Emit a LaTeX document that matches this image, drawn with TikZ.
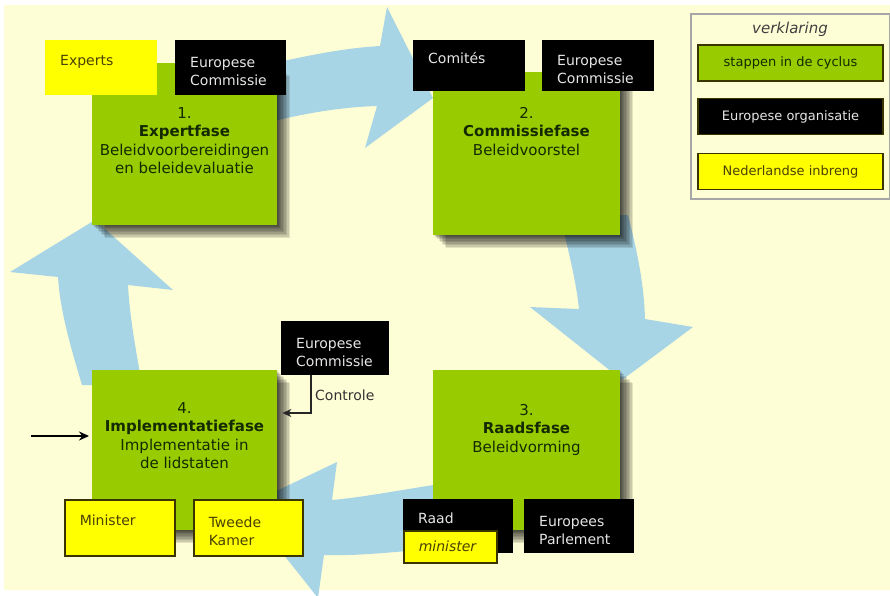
\documentclass[tikz,border=0pt]{standalone}
\usepackage{fontspec}
\setmainfont{DejaVu Sans}
\usetikzlibrary{arrows.meta,shadows}
\definecolor{cream}{HTML}{FEFED6}
\definecolor{lgreen}{HTML}{99CC00}
\definecolor{lblue}{HTML}{A8D5E5}
\definecolor{yel}{HTML}{FFFF00}
\definecolor{olive}{HTML}{3A3500}
\definecolor{gtxt}{HTML}{152A00}
\definecolor{ytxt}{HTML}{4A4200}
\definecolor{wtxt}{HTML}{E6E6E6}
\newcommand\tpx{\rule{0pt}{18pt}}
\begin{document}
\begin{tikzpicture}[x=1pt,y=-1pt,
  lbl/.style={font=\fontsize{14}{18}\selectfont},
  sh/.style={drop shadow={shadow xshift=#1,shadow yshift=-#1,opacity=.11,fill=black}},
  gbox/.style={fill=lgreen, anchor=north west, inner sep=0pt,
    sh=13pt, sh=11.5pt, sh=10pt, sh=8.5pt, sh=7pt, sh=5.5pt, sh=4pt, sh=3pt, sh=2pt, sh=1pt},
  gtext/.style={anchor=north, align=center, inner sep=0pt, text=gtxt, font=\fontsize{15}{18.5}\selectfont},
  smallbox/.style={lbl, anchor=north west, inner xsep=15pt, inner ysep=0pt, align=left},
  blackbox/.style={smallbox, fill=black, text=wtxt},
  yellowbox/.style={smallbox, fill=yel, draw=olive, line width=1.5pt, text=ytxt},
  legbox/.style={font=\fontsize{13}{16}\selectfont, minimum width=185pt, minimum height=36pt, draw=olive, line width=1.5pt, inner sep=0pt},
  arr/.style={fill=lblue, draw=none}
]
\useasboundingbox (0,0) rectangle (890,595);
\fill[white] (0,0) rectangle (890,595);
\fill[cream] (4,5) rectangle (890,590);

% blue cycle arrows
\path[arr] (270,64) .. controls (310,55) and (345,48) .. (380,46) -- (387,7) -- (433,98) -- (365,148) -- (377,106) .. controls (345,107) and (310,112) .. (270,122) -- cycle;
\path[arr] (560,215) .. controls (568,250) and (576,280) .. (579,309) -- (530,307) -- (622,380) -- (693,327) -- (645,319) .. controls (644,285) and (638,255) .. (628,215) -- cycle;
\path[arr] (440,484) .. controls (400,490) and (365,497) .. (332,500) -- (337,462) -- (245,506) -- (318,598) -- (324,555) .. controls (355,556) and (385,553) .. (440,548) -- cycle;
\path[arr] (82,385) .. controls (70,345) and (60,310) .. (58,277) -- (10,272) -- (95,220) -- (173,290) -- (128,285) .. controls (130,320) and (136,350) .. (142,385) -- cycle;

% phase boxes
\node[gbox, minimum width=185pt, minimum height=162pt] (g1) at (92,63) {};
\node[gbox, minimum width=187pt, minimum height=163pt] (g2) at (433,72) {};
\node[gbox, minimum width=187pt, minimum height=160pt] (g3) at (433,370) {};
\node[gbox, minimum width=185pt, minimum height=160pt] (g4) at (92,370) {};

\node[gtext] (t1) at (184.5,107) {1.\\\textbf{Expertfase}\\Beleidvoorbereidingen\\en beleidevaluatie};
\node[gtext] (t2) at (526.5,107) {2.\\\textbf{Commissiefase}\\Beleidvoorstel};
\node[gtext] (t3) at (526.5,404) {3.\\\textbf{Raadsfase}\\Beleidvorming};
\node[gtext] (t4) at (184.5,402) {4.\\\textbf{Implementatiefase}\\Implementatie in\\de lidstaten};

% actor boxes
\node[smallbox, fill=yel, text=ytxt, text width=82pt, minimum height=55pt] (exp) at (45,40) {\tpx Experts\\\strut};
\node[blackbox, text width=81pt, minimum height=55pt] (ec1) at (175,40) {\tpx Europese\\Commissie};
\node[blackbox, text width=82pt, minimum height=51pt] (com) at (413,40) {\tpx Comités\\\strut};
\node[blackbox, text width=82pt, minimum height=51pt] (ec2) at (542,40) {\tpx Europese\\Commissie};
\node[blackbox, text width=78pt, minimum height=54pt] (ec4) at (281,321) {\tpx Europese\\Commissie};
\node[blackbox, text width=80pt, minimum height=54pt] (raad) at (403,499) {\tpx Raad\\\strut};
\node[blackbox, text width=80pt, minimum height=54pt] (ep) at (524,499) {\tpx Europees\\Parlement};
\node[yellowbox, text width=80pt, minimum height=56pt] (min) at (64,499) {\tpx Minister\\\strut};
\node[yellowbox, text width=79pt, minimum height=56pt] (tk) at (193,499) {\tpx Tweede\\Kamer};
\node[yellowbox, text width=63pt, minimum height=32pt, font=\fontsize{14}{18}\selectfont\itshape] (rmin) at (403,530) {minister};

% connectors
\coordinate (cb) at (311,413);
\draw[line width=1.3pt, draw=black!85, -{Stealth[length=9pt,width=8pt]}] (ec4.south west -| cb) -- (cb) -- ([xshift=5pt]g4.east |- cb);
\node[lbl, anchor=west, text=black!80, inner sep=0pt] (ctl) at (315,395) {Controle};
\coordinate (in4) at (31,436);
\draw[line width=2pt, -{Stealth[length=10pt,width=9pt]}] (in4) -- ([xshift=-3pt]g4.west |- in4);

% legend
\node[draw=gray!70, line width=2pt, fill=cream, anchor=north west, minimum width=199pt, minimum height=185pt, inner sep=0pt] (leg) at (690,13) {};
\node[font=\fontsize{15}{18}\selectfont\itshape, text=black!75] (legt) at (790,29) {verklaring};
\node[legbox, fill=lgreen, text=gtxt] (l1) at (790.5,63) {stappen in de cyclus};
\node[legbox, fill=black, text=wtxt] (l2) at (790.5,116.5) {Europese organisatie};
\node[legbox, fill=yel, text=ytxt] (l3) at (790.5,171.5) {Nederlandse inbreng};
\end{tikzpicture}
\end{document}
